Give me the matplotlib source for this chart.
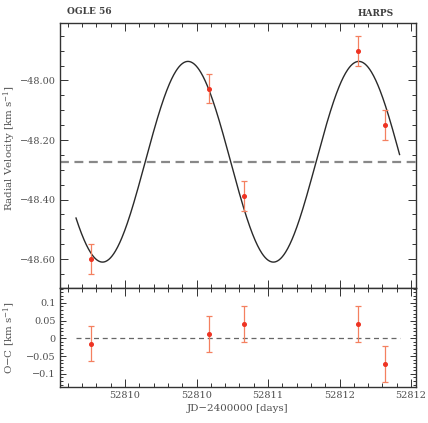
import numpy as np
import matplotlib
matplotlib.use("Agg")
import matplotlib.pyplot as plt
from matplotlib.ticker import MultipleLocator, FixedLocator, FixedFormatter

# ---- data ----
jd = [52809.76, 52810.59, 52810.83, 52811.63, 52811.82]
rv = [-48.600, -48.027, -48.387, -47.900, -48.150]
rv_err = [0.05, 0.05, 0.05, 0.05, 0.05]
oc = [-0.015, 0.013, 0.040, 0.040, -0.072]
oc_err = [0.05, 0.05, 0.05, 0.05, 0.05]

# orbital model parameters (circular orbit)
gamma = -48.273
K = 0.337
period = 1.195
t_peak = 52810.44
model_start, model_end = 52809.657, 52811.92

xticks = [52810.0, 52810.5, 52811.0, 52811.5, 52812.0]
xticklabels = ["52810", "52810", "52811", "52812", "52812"]
rv_ticks = [-48.6, -48.4, -48.2, -48.0]
rv_ticklabels = ["\u221248.60", "\u221248.40", "\u221248.20", "\u221248.00"]
oc_ticks = [-0.1, -0.05, 0, 0.05, 0.1]
oc_ticklabels = ["\u22120.1", "\u22120.05", "0", "0.05", "0.1"]

plt.rcParams['font.family'] = ['DejaVu Serif']
plt.rcParams['mathtext.fontset'] = 'dejavuserif'
tc = '#505050'
fs = 7.4
fs_tick = 7.0
red = '#ee3322'
ered = '#f48060'

fig = plt.figure(figsize=(4.28, 4.23), dpi=100)
ax1 = fig.add_axes([60/428, 1-288/423, 356/428, 265/423])
ax2 = fig.add_axes([60/428, 1-387/423, 356/428, 99/423])

xlim = (52809.545, 52812.035)

t = np.linspace(model_start, model_end, 600)
v = gamma + K*np.cos(2*np.pi*(t - t_peak)/period)
ax1.plot(t, v, color='#2a2a2a', lw=1.0)
ax1.axhline(gamma, color='#888888', lw=1.6, dashes=(4, 2.5))
ax1.errorbar(jd, rv, yerr=rv_err, fmt='o', ms=2.6, color=red, ecolor=ered,
             elinewidth=0.9, capsize=2.2, capthick=0.9, zorder=5)
ax1.set_xlim(*xlim)
ax1.set_ylim(-48.697, -47.807)
ax1.set_ylabel("Radial Velocity [km s$^{-1}$]", fontsize=fs, color=tc)
ax1.yaxis.set_label_coords(-0.117, 0.53)

ax2.plot([model_start, model_end], [0, 0], color='#666666', lw=0.9, dashes=(4, 3))
ax2.errorbar(jd, oc, yerr=oc_err, fmt='o', ms=2.6, color=red, ecolor=ered,
             elinewidth=0.9, capsize=2.2, capthick=0.9, zorder=5)
ax2.set_xlim(*xlim)
ax2.set_ylim(-0.137, 0.142)
ax2.set_ylabel("O\u2212C [km s$^{-1}$]", fontsize=fs, color=tc)
ax2.yaxis.set_label_coords(-0.117, 0.5)
ax2.set_xlabel("JD\u22122400000 [days]", fontsize=fs, color=tc, labelpad=3)

for ax in (ax1, ax2):
    ax.xaxis.set_major_locator(FixedLocator(xticks))
    ax.xaxis.set_minor_locator(MultipleLocator(0.1))
    ax.tick_params(which='both', direction='in', top=True, right=True,
                   labelsize=fs_tick, labelcolor=tc, color='#333333', width=0.7)
    ax.tick_params(which='major', length=6, pad=3)
    ax.tick_params(which='minor', length=3)
    for s in ax.spines.values():
        s.set_linewidth(1.0)
        s.set_color('#333333')

ax1.set_xticklabels([])
ax2.set_xticklabels(xticklabels)
ax1.yaxis.set_major_locator(FixedLocator(rv_ticks))
ax1.yaxis.set_major_formatter(FixedFormatter(rv_ticklabels))
ax1.yaxis.set_minor_locator(MultipleLocator(0.05))
ax2.yaxis.set_major_locator(FixedLocator(oc_ticks))
ax2.yaxis.set_major_formatter(FixedFormatter(oc_ticklabels))
ax2.yaxis.set_minor_locator(MultipleLocator(0.01))
ax2.tick_params(axis='y', which='minor', length=2)
ax2.tick_params(axis='y', which='major', length=4)

fig.text(89/428, 1-12/423, "OGLE 56", fontsize=6.5, color='#404040', weight='bold',
         ha='center', va='center')
fig.text(376/428, 1-13/423, "HARPS", fontsize=6.5, color='#404040', weight='bold',
         ha='center', va='center')

fig.savefig("out.png", dpi=100)
